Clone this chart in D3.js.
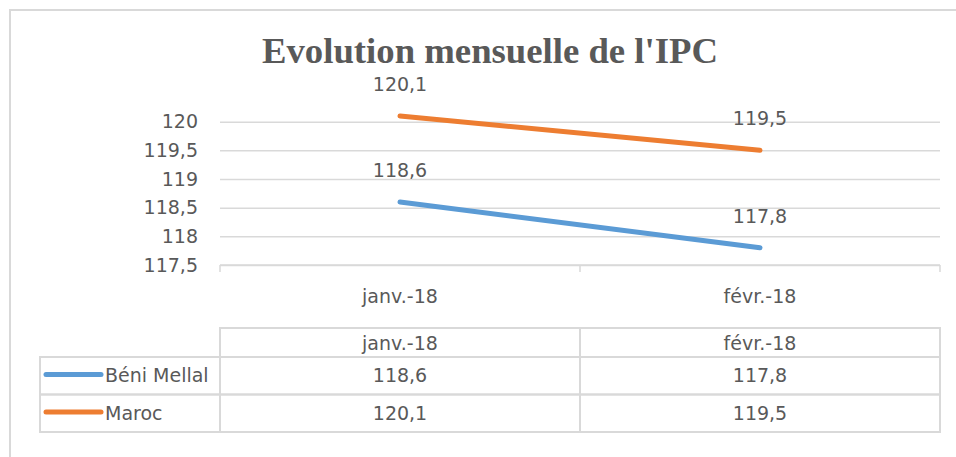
<!DOCTYPE html>
<html>
<head>
<meta charset="utf-8">
<script src="https://cdn.jsdelivr.net/npm/d3@7"></script>
<style>
  body { margin: 0; background: #fff; }
  svg text { font-family: "DejaVu Sans", sans-serif; fill: #595959; }
</style>
</head>
<body>
<div id="chart"></div>
<script>
// data
var categories = ["janv.-18", "févr.-18"];
var seriesNames = ["Béni Mellal", "Maroc"];
var beniMellal = [118.6, 117.8];
var maroc = [120.1, 119.5];
var yTicks = [117.5, 118, 118.5, 119, 119.5, 120];
var seriesColors = ["#5b9bd5", "#ed7d31"];

var series = [
  { name: seriesNames[0], values: beniMellal, color: seriesColors[0] },
  { name: seriesNames[1], values: maroc, color: seriesColors[1] }
];

var width = 956, height = 457;
var grid = "#d9d9d9";

var fr = d3.formatLocale({ decimal: ",", thousands: " ", grouping: [3], currency: ["", " €"] });
var tickFmt = fr.format("~f");
var valFmt = fr.format(".1f");

var svg = d3.select("#chart").append("svg")
    .attr("width", width)
    .attr("height", height);

// chart area border
svg.append("rect")
    .attr("x", 10).attr("y", 10)
    .attr("width", 1000).attr("height", 500)
    .attr("fill", "#fff")
    .attr("stroke", grid)
    .attr("stroke-width", 2);

// title
svg.append("text")
    .attr("x", 490).attr("y", 63)
    .attr("text-anchor", "middle")
    .attr("textLength", 456)
    .attr("lengthAdjust", "spacingAndGlyphs")
    .style("font-family", "'Liberation Serif', 'Times New Roman', serif")
    .style("font-weight", "bold")
    .style("font-size", "36px")
    .text("Evolution mensuelle de l'IPC");

// scales
var x = d3.scaleBand().domain(categories).range([220, 940]);
var y = d3.scaleLinear().domain([117.5, 120]).range([265, 121.7]);

// gridlines + y labels
var yAxis = svg.append("g")
    .attr("transform", "translate(220,0)")
    .call(d3.axisLeft(y).tickValues(yTicks).tickFormat(tickFmt)
        .tickSize(-720).tickPadding(22));
yAxis.select(".domain").remove();
yAxis.selectAll(".tick line").attr("stroke", grid).attr("stroke-width", 1.5);
yAxis.selectAll(".tick text")
    .attr("fill", "#595959")
    .style("font-family", "'DejaVu Sans', sans-serif")
    .style("font-size", "19px");

// x axis line with category separators
var xAxis = svg.append("g").attr("transform", "translate(0,265)");
xAxis.append("line")
    .attr("x1", 220).attr("x2", 940)
    .attr("stroke", grid).attr("stroke-width", 1.5);
xAxis.selectAll("line.sep")
    .data(categories.concat(["end"]))
    .enter().append("line")
    .attr("class", "sep")
    .attr("x1", function(d, i) { return i < categories.length ? x(d) : x.range()[1]; })
    .attr("x2", function(d, i) { return i < categories.length ? x(d) : x.range()[1]; })
    .attr("y1", 0).attr("y2", 7)
    .attr("stroke", grid).attr("stroke-width", 1.5);
xAxis.selectAll("text")
    .data(categories)
    .enter().append("text")
    .attr("x", function(d) { return x(d) + x.bandwidth() / 2; })
    .attr("y", 38)
    .attr("text-anchor", "middle")
    .style("font-size", "19px")
    .text(function(d) { return d; });

// lines
var line = d3.line()
    .x(function(d, i) { return x(categories[i]) + x.bandwidth() / 2; })
    .y(function(d) { return y(d); });

svg.selectAll("path.series")
    .data(series)
    .enter().append("path")
    .attr("class", "series")
    .attr("d", function(d) { return line(d.values); })
    .attr("fill", "none")
    .attr("stroke", function(d) { return d.color; })
    .attr("stroke-width", 5)
    .attr("stroke-linecap", "round");

// data labels
series.forEach(function(s) {
  svg.selectAll(null)
      .data(s.values)
      .enter().append("text")
      .attr("x", function(d, i) { return x(categories[i]) + x.bandwidth() / 2; })
      .attr("y", function(d) { return y(d) - 25; })
      .attr("text-anchor", "middle")
      .style("font-size", "19px")
      .text(function(d) { return valFmt(d); });
});

// data table
var tbl = svg.append("g");
var headTop = 328, rowTop = 357, rowH = 37.5, legendLeft = 40;

tbl.selectAll("rect.head")
    .data(categories)
    .enter().append("rect")
    .attr("class", "head")
    .attr("x", function(d) { return x(d); })
    .attr("y", headTop)
    .attr("width", x.bandwidth())
    .attr("height", rowTop - headTop)
    .attr("fill", "none").attr("stroke", grid).attr("stroke-width", 2);

tbl.selectAll("text.head")
    .data(categories)
    .enter().append("text")
    .attr("class", "head")
    .attr("x", function(d) { return x(d) + x.bandwidth() / 2; })
    .attr("y", 350)
    .attr("text-anchor", "middle")
    .style("font-size", "19px")
    .text(function(d) { return d; });

var rows = tbl.selectAll("g.row")
    .data(series)
    .enter().append("g")
    .attr("class", "row")
    .attr("transform", function(d, i) { return "translate(0," + (rowTop + i * rowH) + ")"; });

rows.append("rect")
    .attr("x", legendLeft).attr("y", 0)
    .attr("width", x.range()[0] - legendLeft).attr("height", rowH)
    .attr("fill", "none").attr("stroke", grid).attr("stroke-width", 2);

rows.selectAll("rect.cell")
    .data(categories)
    .enter().append("rect")
    .attr("class", "cell")
    .attr("x", function(d) { return x(d); })
    .attr("y", 0)
    .attr("width", x.bandwidth()).attr("height", rowH)
    .attr("fill", "none").attr("stroke", grid).attr("stroke-width", 2);

rows.append("line")
    .attr("x1", 46).attr("x2", 101)
    .attr("y1", 17.5).attr("y2", 17.5)
    .attr("stroke", function(d) { return d.color; })
    .attr("stroke-width", 5)
    .attr("stroke-linecap", "round");

rows.append("text")
    .attr("x", 105).attr("y", 25)
    .style("font-size", "19px")
    .text(function(d) { return d.name; });

rows.selectAll("text.val")
    .data(function(d) { return d.values; })
    .enter().append("text")
    .attr("class", "val")
    .attr("x", function(d, i) { return x(categories[i]) + x.bandwidth() / 2; })
    .attr("y", 25)
    .attr("text-anchor", "middle")
    .style("font-size", "19px")
    .text(function(d) { return valFmt(d); });
</script>
</body>
</html>
